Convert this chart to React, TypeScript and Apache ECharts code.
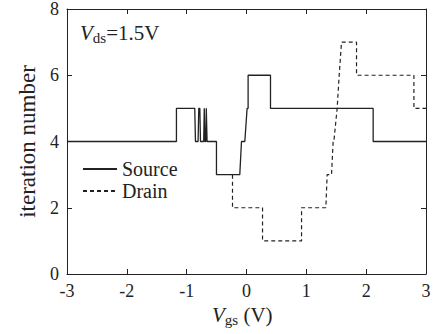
import React, { useEffect, useRef } from "react";
import * as echarts from "echarts";

// Iteration number versus gate voltage, V_ds = 1.5 V
const xTicks = [-3, -2, -1, 0, 1, 2, 3];
const yTicks = [0, 2, 4, 6, 8];

const sourcePoints: [number, number][] = [
  [-3, 4], [-1.171, 4], [-1.171, 5], [-0.865, 5], [-0.853, 4], [-0.809, 4],
  [-0.798, 5], [-0.78, 5], [-0.769, 4], [-0.715, 4], [-0.706, 5], [-0.695, 4],
  [-0.68, 4], [-0.672, 5], [-0.659, 4], [-0.502, 4], [-0.502, 3], [-0.112, 3],
  [-0.084, 4], [-0.028, 4], [0.01, 5], [0.027, 5], [0.027, 6], [0.401, 6],
  [0.401, 5], [2.117, 5], [2.117, 4], [3, 4],
];

const drainPoints: [number, number][] = [
  [-0.234, 3], [-0.234, 2], [0.268, 2], [0.268, 1], [0.92, 1], [0.92, 2],
  [1.326, 2], [1.348, 3], [1.421, 3], [1.448, 4], [1.46, 4], [1.515, 5],
  [1.525, 5], [1.549, 6], [1.56, 6], [1.588, 7], [1.839, 7], [1.839, 6],
  [2.798, 6], [2.798, 5], [3, 5],
];

const FONT = "'Liberation Serif', 'DejaVu Serif', serif";
const INK = "#222";

export default function App() {
  const ref = useRef<HTMLDivElement>(null);

  useEffect(() => {
    if (!ref.current) return;
    const chart = echarts.init(ref.current, undefined, { renderer: "svg" });

    const tick = { show: true, inside: true, length: 5, lineStyle: { color: INK, width: 1 } };
    const axisLine = { show: true, onZero: false, lineStyle: { color: INK, width: 1 } };
    const label = { fontFamily: FONT, fontSize: 18, color: INK, margin: 8 };

    chart.setOption({
      animation: false,
      backgroundColor: "#fff",
      textStyle: { fontFamily: FONT, color: INK },
      grid: { left: 67, right: 10, top: 7, bottom: 60 },
      legend: {
        show: true,
        orient: "vertical",
        left: 82,
        top: 159,
        padding: 0,
        itemWidth: 34,
        itemHeight: 10,
        itemGap: 2,
        itemStyle: { opacity: 0 },
        textStyle: { fontFamily: FONT, fontSize: 20, color: INK },
        data: ["Source", "Drain"],
      },
      xAxis: [
        {
          type: "value",
          min: xTicks[0],
          max: xTicks[xTicks.length - 1],
          interval: 1,
          axisLine,
          axisTick: tick,
          splitLine: { show: false },
          axisLabel: label,
        },
        {
          type: "value",
          position: "top",
          min: xTicks[0],
          max: xTicks[xTicks.length - 1],
          interval: 1,
          axisLine,
          axisTick: tick,
          splitLine: { show: false },
          axisLabel: { show: false },
        },
      ],
      yAxis: [
        {
          type: "value",
          min: yTicks[0],
          max: yTicks[yTicks.length - 1],
          interval: 2,
          axisLine,
          axisTick: tick,
          splitLine: { show: false },
          axisLabel: label,
          name: "iteration number",
          nameLocation: "middle",
          nameGap: 22,
          nameTextStyle: { fontFamily: FONT, fontSize: 23, color: INK },
        },
        {
          type: "value",
          position: "right",
          min: yTicks[0],
          max: yTicks[yTicks.length - 1],
          interval: 2,
          axisLine,
          axisTick: tick,
          splitLine: { show: false },
          axisLabel: { show: false },
        },
      ],
      series: [
        {
          name: "Source",
          type: "line",
          data: sourcePoints,
          showSymbol: false,
          symbol: "none",
          lineStyle: { color: INK, width: 1.3, type: "solid" },
          itemStyle: { color: INK },
        },
        {
          name: "Drain",
          type: "line",
          data: drainPoints,
          showSymbol: false,
          symbol: "none",
          lineStyle: { color: INK, width: 1.2, type: [4, 3] },
          itemStyle: { color: INK },
        },
      ],
      graphic: [
        {
          type: "text",
          left: 80,
          top: 22,
          style: {
            text: "{v|V}{s|ds}{t|=1.5V}",
            rich: {
              v: { fontFamily: FONT, fontSize: 21, fontStyle: "italic", fill: INK },
              s: { fontFamily: FONT, fontSize: 15, fill: INK, padding: [10, 0, 0, 0] },
              t: { fontFamily: FONT, fontSize: 21, fill: INK },
            },
          },
        },
        {
          type: "text",
          left: 212,
          top: 304,
          style: {
            text: "{v|V}{s|gs}{t| (V)}",
            rich: {
              v: { fontFamily: FONT, fontSize: 21, fontStyle: "italic", fill: INK },
              s: { fontFamily: FONT, fontSize: 15, fill: INK, padding: [10, 0, 0, 0] },
              t: { fontFamily: FONT, fontSize: 21, fill: INK },
            },
          },
        },
      ],
    });

    return () => chart.dispose();
  }, []);

  return (
    <div
      ref={ref}
      style={{ position: "fixed", left: 0, top: 0, width: 436, height: 334, background: "#fff" }}
    />
  );
}
